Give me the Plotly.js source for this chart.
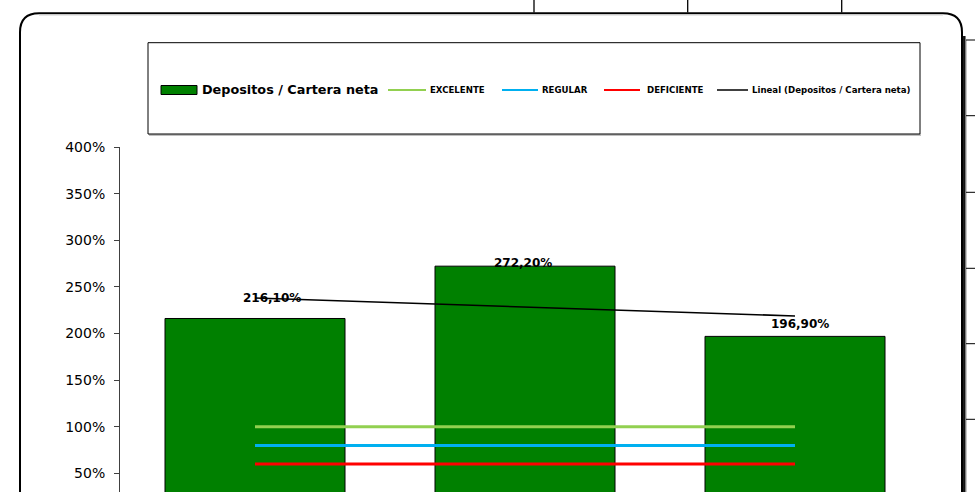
<!DOCTYPE html>
<html>
<head>
<meta charset="utf-8">
<script src="https://cdn.plot.ly/plotly-3.0.1.min.js"></script>
<style>
html,body{margin:0;padding:0;overflow:hidden;background:#fff;}
#chart{width:975px;height:560px;}
</style>
</head>
<body>
<div id="chart"></div>
<script>
// ---- data ----
var categories = ['Periodo 1', 'Periodo 2', 'Periodo 3'];
var ratioValues = [216.1, 272.2, 196.9];          // Depositos / Cartera neta (%)
var excelente = [100, 100, 100];
var regular = [80, 80, 80];
var deficiente = [60, 60, 60];
var seriesNames = ['Depositos / Cartera neta', 'EXCELENTE', 'REGULAR', 'DEFICIENTE'];
var yTickValues = [50, 100, 150, 200, 250, 300, 350, 400];

// ---- colours ----
var cBar = '#008000', cExc = '#92D050', cReg = '#00B0F0', cDef = '#FF0000', cTrend = '#000000';

// linear trend (least squares over category index), as Excel's "Lineal" trendline
var n = ratioValues.length, idx = ratioValues.map(function(_, i){ return i + 1; });
var mx = idx.reduce(function(a,b){return a+b;},0)/n;
var my = ratioValues.reduce(function(a,b){return a+b;},0)/n;
var sxy = 0, sxx = 0;
for (var i = 0; i < n; i++) { sxy += (idx[i]-mx)*(ratioValues[i]-my); sxx += (idx[i]-mx)*(idx[i]-mx); }
var slope = sxy/sxx, icpt = my - slope*mx;
var trend = idx.map(function(x){ return icpt + slope*x; });
var trendName = 'Lineal (' + seriesNames[0] + ')';

function fmt(v){ return v.toFixed(2).replace('.', ',') + '%'; }

// ---- layout geometry (pixels) ----
var W = 975, Hh = 560, mL = 120, mR = 45, mT = 147, mB = 40;
var PW = W - mL - mR, PH = Hh - mT - mB;
function X(px){ return (px - mL) / PW; }
function Y(py){ return (Hh - mB - py) / PH; }

var FONT = 'DejaVu Sans';

var traces = [
  { type: 'bar', x: categories, y: ratioValues, name: seriesNames[0],
    marker: { color: cBar, line: { color: '#000', width: 1 } }, hoverinfo: 'skip' },
  { type: 'scatter', mode: 'lines', x: categories, y: excelente, name: seriesNames[1],
    line: { color: cExc, width: 3 }, hoverinfo: 'skip' },
  { type: 'scatter', mode: 'lines', x: categories, y: regular, name: seriesNames[2],
    line: { color: cReg, width: 3 }, hoverinfo: 'skip' },
  { type: 'scatter', mode: 'lines', x: categories, y: deficiente, name: seriesNames[3],
    line: { color: cDef, width: 3 }, hoverinfo: 'skip' },
  { type: 'scatter', mode: 'lines', x: categories, y: trend, name: trendName,
    line: { color: cTrend, width: 1.6 }, hoverinfo: 'skip' }
];

// data labels
var labelShift = [[17, 20], [-2, 3], [5, 12]];
var annotations = ratioValues.map(function(v, i){
  return { x: categories[i], y: v, xref: 'x', yref: 'y', text: '<b>' + fmt(v) + '</b>',
    showarrow: false, xanchor: 'center', yanchor: 'middle',
    xshift: labelShift[i][0], yshift: labelShift[i][1],
    font: { family: FONT, size: 12, color: '#000' } };
});

// custom legend
var legY = 90;
var legendItems = [
  { kind: 'bar', color: cBar, name: seriesNames[0], sx0: 161, sx1: 197, tx: 200, size: 12.8 },
  { kind: 'line', color: cExc, name: seriesNames[1], sx0: 388, sx1: 426, tx: 428, size: 8.6 },
  { kind: 'line', color: cReg, name: seriesNames[2], sx0: 502, sx1: 538, tx: 540, size: 8.6 },
  { kind: 'line', color: cDef, name: seriesNames[3], sx0: 604, sx1: 640, tx: 645, size: 8.6 },
  { kind: 'line', color: cTrend, name: trendName, sx0: 717, sx1: 748, tx: 750, size: 8.6 }
];

var shapes = [];
// outer chart frame (rounded)
var fl = 20, fr = 962, ft = 13.3, fb = 620, rr = 19;
shapes.push({ type: 'path', xref: 'paper', yref: 'paper', layer: 'above',
  path: 'M' + X(fl) + ',' + Y(fb) + ' L' + X(fl) + ',' + Y(ft + rr) +
        ' Q' + X(fl) + ',' + Y(ft) + ' ' + X(fl + rr) + ',' + Y(ft) +
        ' L' + X(fr - rr) + ',' + Y(ft) +
        ' Q' + X(fr) + ',' + Y(ft) + ' ' + X(fr) + ',' + Y(ft + rr) +
        ' L' + X(fr) + ',' + Y(fb),
  line: { color: '#000', width: 2 } });
// right shadow
shapes.push({ type: 'line', xref: 'paper', yref: 'paper', x0: X(964.3), x1: X(964.3), y0: Y(36), y1: Y(fb),
  line: { color: '#111', width: 2.5 } });
// light shadow under top edge
shapes.push({ type: 'line', xref: 'paper', yref: 'paper', x0: X(fl + rr), x1: X(fr - rr), y0: Y(15), y1: Y(15),
  line: { color: '#cfcfcf', width: 1 } });
// spreadsheet cell lines outside the frame
[534, 687.7, 841.7].forEach(function(px){
  shapes.push({ type: 'line', xref: 'paper', yref: 'paper', x0: X(px), x1: X(px), y0: Y(0), y1: Y(12.5),
    line: { color: '#000', width: 1.3 } });
});
shapes.push({ type: 'line', xref: 'paper', yref: 'paper', x0: X(966.5), x1: X(966.5), y0: Y(40), y1: Y(fb),
  line: { color: '#c8c8c8', width: 1 } });
[40, 115.7, 192.3, 268.3, 343.7, 419.3].forEach(function(py){
  shapes.push({ type: 'line', xref: 'paper', yref: 'paper', x0: X(966), x1: X(976), y0: Y(py), y1: Y(py),
    line: { color: '#000', width: 1 } });
});
// legend box + shadow
shapes.push({ type: 'line', xref: 'paper', yref: 'paper', x0: X(149), x1: X(921), y0: Y(135), y1: Y(135),
  line: { color: '#808080', width: 1.2 } });
shapes.push({ type: 'rect', xref: 'paper', yref: 'paper', x0: X(148), x1: X(920), y0: Y(42.7), y1: Y(134),
  line: { color: '#000', width: 1 }, fillcolor: 'rgba(0,0,0,0)' });
legendItems.forEach(function(it){
  if (it.kind === 'bar') {
    shapes.push({ type: 'rect', xref: 'paper', yref: 'paper', x0: X(it.sx0), x1: X(it.sx1),
      y0: Y(legY - 4.5), y1: Y(legY + 4.5), fillcolor: it.color, line: { color: '#000', width: 1 } });
  } else {
    shapes.push({ type: 'line', xref: 'paper', yref: 'paper', x0: X(it.sx0), x1: X(it.sx1),
      y0: Y(legY), y1: Y(legY), line: { color: it.color, width: it.color === cTrend ? 1.5 : 2 } });
  }
  annotations.push({ xref: 'paper', yref: 'paper', x: X(it.tx), y: Y(legY), text: '<b>' + it.name + '</b>',
    showarrow: false, xanchor: 'left', yanchor: 'middle',
    font: { family: FONT, size: it.size, color: '#000' } });
});

var layout = {
  width: W, height: Hh,
  margin: { l: mL, r: mR, t: mT, b: mB, pad: 0 },
  paper_bgcolor: 'rgba(0,0,0,0)', plot_bgcolor: 'rgba(0,0,0,0)',
  showlegend: false,
  bargap: 1/3,
  font: { family: FONT, color: '#000' },
  xaxis: { type: 'category', range: [-0.5, 2.5], showgrid: false, zeroline: false,
    showline: true, linecolor: '#000', linewidth: 1, ticks: '', showticklabels: false,
    fixedrange: true },
  yaxis: { range: [0, 400], tickvals: yTickValues, ticktext: yTickValues.map(function(v){ return v + '%'; }),
    showgrid: false, zeroline: false, showline: true, linecolor: '#404040', linewidth: 1,
    ticks: 'outside', ticklen: 5, tickcolor: '#404040', tickwidth: 1, ticklabelstandoff: 6,
    tickfont: { family: FONT, size: 14, color: '#000' }, fixedrange: true },
  shapes: shapes,
  annotations: annotations
};

Plotly.newPlot('chart', traces, layout, { displayModeBar: false, staticPlot: true });
</script>
</body>
</html>
